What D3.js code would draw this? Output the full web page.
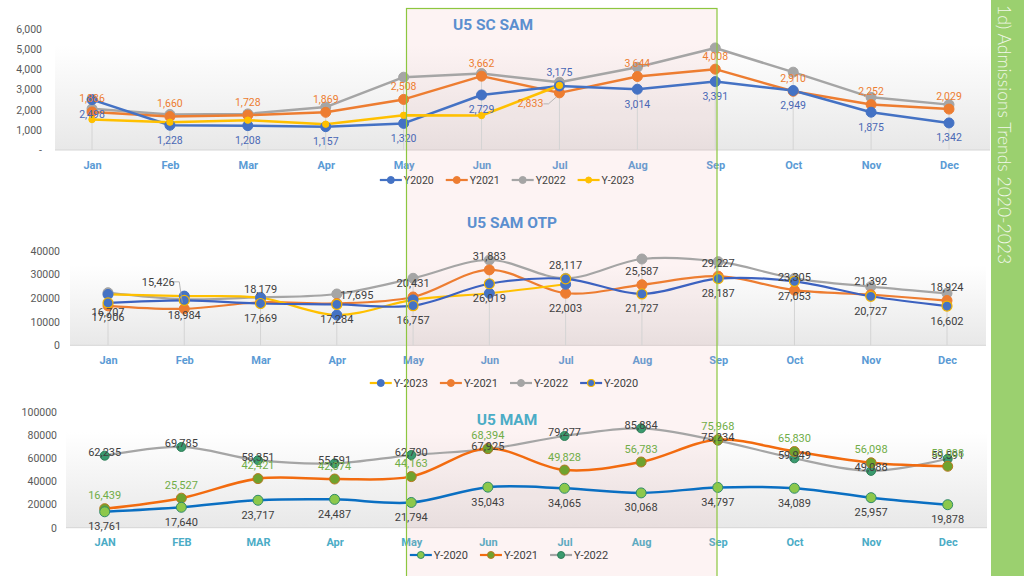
<!DOCTYPE html>
<html><head><meta charset="utf-8">
<script src="https://cdn.jsdelivr.net/npm/d3@7"></script>
<style>
body{margin:0;background:#fff;}
svg{display:block;font-family:Roboto,'DejaVu Sans',sans-serif;}
</style>
</head><body>
<svg id="c" width="1024" height="576"></svg>
<script>
// ---------- DATA ----------
const months = ["Jan","Feb","Mar","Apr","May","Jun","Jul","Aug","Sep","Oct","Nov","Dec"];
const monthsMam = ["JAN","FEB","MAR","Apr","May","Jun","Jul","Aug","Sep","Oct","Nov","Dec"];

// U5 SC SAM
const scSamTicks = [0,1000,2000,3000,4000,5000,6000];
const scSamTickLabels = ["-","1,000","2,000","3,000","4,000","5,000","6,000"];
const scSam2020 = [2498,1228,1208,1157,1320,2729,3175,3014,3391,2949,1875,1342];
const scSam2021 = [1886,1660,1728,1869,2508,3662,2833,3644,4008,2910,2252,2029];
const scSam2022 = [2040,1760,1790,2130,3610,3790,3360,4100,5060,3860,2610,2250];
const scSam2023 = [1510,1380,1480,1280,1720,1710,3200];

// U5 SAM OTP
const otpTicks = [0,10000,20000,30000,40000];
const otpTickLabels = ["0","10000","20000","30000","40000"];
const otp2023 = [21500,20800,20100,12800,19200,22000,25800];
const otp2021 = [16707,15426,18179,17695,20431,31883,22003,25587,29227,23305,21392,18924];
const otp2022 = [22240,19450,20300,21690,28330,36070,28330,36490,35370,28330,24790,21980];
const otp2020 = [17906,18984,17669,17284,16757,26019,28117,21727,28187,27053,20727,16602];

// U5 MAM
const mamTicks = [0,20000,40000,60000,80000,100000];
const mamTickLabels = ["0","20000","40000","60000","80000","100000"];
const mam2020 = [13761,17640,23717,24487,21794,35043,34065,30068,34797,34089,25957,19878];
const mam2021 = [16439,25527,42421,42074,44163,68394,49828,56783,75968,65830,56098,53088];
const mam2022 = [62235,69785,58351,55591,62790,67925,79277,85884,75234,59949,49088,59591];

const sideTitle = "1d) Admissions Trends 2020-2023";

// ---------- DRAWING ----------
const svg = d3.select("#c");
const fmt = d3.format(",");
const defs = svg.append("defs");
const grad = defs.append("linearGradient").attr("id","pbg").attr("x1",0).attr("y1",0).attr("x2",0).attr("y2",1);
grad.append("stop").attr("offset","0").attr("stop-color","#ffffff");
grad.append("stop").attr("offset","1").attr("stop-color","#e8e8e8");

const layerBg = svg.append("g");
const layerHl = svg.append("g");
const layerMain = svg.append("g");
const layerTop = svg.append("g");

// label placement codes
function place(code, px, py){
  switch(code){
    case "a": return {x:px, y:py-13};
    case "b": return {x:px, y:py+15};
    case "b6": return {x:px, y:py+7};
    case "c": return {x:px, y:py-3};
    case "r": return {x:px+20, y:py-8};
    case "lb": return {x:px-29, y:py+11, leader:[[px-16,py+11],[px-11,py+11],[px-3,py+4]]};
    case "lu": return {x:px-26, y:py-26, leader:[[px-12,py-27],[px-5,py-27],[px-2,py-6]]};
    default: return {x:px, y:py-13};
  }
}

function drawPanel(p){
  const x = d3.scalePoint().domain(p.cats).range(p.xr);
  const y = d3.scaleLinear().domain([p.ticks[0], p.ticks[p.ticks.length-1]]).range(p.yr);
  // plot background
  layerBg.append("rect").attr("x",p.plot[0]).attr("y",p.plot[1])
    .attr("width",p.plot[2]-p.plot[0]).attr("height",y(0)-p.plot[1]).attr("fill","url(#pbg)");
  layerBg.append("line").attr("x1",p.plot[0]).attr("x2",p.plot[2]).attr("y1",y(0)).attr("y2",y(0))
    .attr("stroke","#d6d6d6").attr("stroke-width",1);
  // y axis
  const ya = d3.axisLeft(y).tickValues(p.ticks).tickSize(0).tickPadding(0)
    .tickFormat((d,i)=>p.tickLabels[i]);
  const yg = layerBg.append("g").attr("transform",`translate(${p.yAxisX},0)`).call(ya);
  yg.select(".domain").remove();
  yg.selectAll("text").attr("fill","#595959").attr("font-size",10.5).attr("font-family","Roboto, sans-serif");
  // x axis
  const xa = d3.axisBottom(x).tickSize(0).tickPadding(0);
  const xg = layerBg.append("g").attr("transform",`translate(0,${p.xLabelY})`).call(xa);
  xg.select(".domain").remove();
  xg.selectAll("text").attr("fill",p.monthColor).attr("font-size",11).attr("font-weight","bold")
    .attr("font-family","Roboto, sans-serif").attr("dy","0.35em");
  // title
  layerMain.append("text").attr("x",p.titleX).attr("y",p.titleY).attr("text-anchor","middle")
    .attr("dominant-baseline","central").attr("font-size",15.5).attr("font-weight","bold")
    .attr("fill",p.titleColor).text(p.title);
  // drop lines
  if(p.dropLines){
    p.cats.forEach((c,i)=>{
      const mx = d3.max(p.series, s=> s.data[i]!==undefined ? s.data[i] : -Infinity);
      layerMain.append("line").attr("x1",x(c)).attr("x2",x(c)).attr("y1",y(mx)).attr("y2",y(0))
        .attr("stroke","#d4d4d4").attr("stroke-width",1);
    });
  }
  // lines
  const line = d3.line().x((d,i)=>x(p.cats[i])).y(d=>y(d)).curve(p.curve);
  p.series.forEach(s=>{
    layerMain.append("path").attr("d",line(s.data)).attr("fill","none")
      .attr("stroke",s.line).attr("stroke-width",s.lw||2.5).attr("stroke-linejoin","round").attr("stroke-linecap","round");
  });
  p.series.forEach(s=>{
    layerMain.append("g").selectAll("circle").data(s.data).join("circle")
      .attr("cx",(d,i)=>x(p.cats[i])).attr("cy",d=>y(d)).attr("r",s.r)
      .attr("fill",s.fill).attr("stroke",s.stroke).attr("stroke-width",s.sw||1);
  });
  // labels
  p.series.forEach(s=>{
    if(!s.labelPos) return;
    s.data.forEach((d,i)=>{
      const pt = place(s.labelPos[i], x(p.cats[i]), y(d));
      if(pt.leader){
        layerTop.append("path").attr("d",d3.line()(pt.leader)).attr("fill","none")
          .attr("stroke","#a6a6a6").attr("stroke-width",0.8);
      }
      layerTop.append("text").attr("x",pt.x).attr("y",pt.y).attr("text-anchor","middle")
        .attr("dominant-baseline","central").attr("font-size",p.labelSize)
        .attr("fill",s.labelColor).text(fmt(d));
    });
  });
  // legend
  const lg = layerTop.append("g");
  let cx = 0;
  p.series.slice().sort((a,b)=>a.legendOrder-b.legendOrder).forEach(s=>{
    lg.append("line").attr("x1",cx).attr("x2",cx+22).attr("y1",0).attr("y2",0)
      .attr("stroke",s.line).attr("stroke-width",2.2);
    lg.append("circle").attr("cx",cx+11).attr("cy",0).attr("r",s.legendR||3.5)
      .attr("fill",s.fill).attr("stroke",s.stroke).attr("stroke-width",s.sw||1);
    const t = lg.append("text").attr("x",cx+24).attr("y",0).attr("dominant-baseline","central")
      .attr("font-size",p.legendSize).attr("fill","#404040").text(s.name);
    cx += 24 + t.node().getComputedTextLength() + 12;
  });
  cx -= 12;
  lg.attr("transform",`translate(${p.legendCX - cx/2},${p.legendY})`);
}

const A = "a", B = "b";
drawPanel({
  title:"U5 SC SAM", titleX:493, titleY:25, titleColor:"#5b8fcf",
  cats:months, xr:[92,949], ticks:scSamTicks, tickLabels:scSamTickLabels, yr:[150,29],
  plot:[55,45,990], yAxisX:42, xLabelY:165, monthColor:"#5b9bd5",
  curve:d3.curveLinear, dropLines:true, labelSize:10.5, legendSize:10.5,
  legendCX:507, legendY:180,
  series:[
    {name:"Y2022", data:scSam2022, line:"#a5a5a5", fill:"#a5a5a5", stroke:"#a5a5a5", r:5, legendOrder:2},
    {name:"Y2021", data:scSam2021, line:"#ed7d31", fill:"#ed7d31", stroke:"#ed7d31", r:5, legendOrder:1,
      labelColor:"#ed7d31", labelPos:[A,A,A,A,A,A,"lb",A,A,A,A,A]},
    {name:"Y2020", data:scSam2020, line:"#4472c4", fill:"#4472c4", stroke:"#4472c4", r:5, legendOrder:0,
      labelColor:"#4a68b5", labelPos:[B,B,B,B,B,B,A,B,B,B,B,B]},
    {name:"Y-2023", data:scSam2023, line:"#ffc000", fill:"#ffc000", stroke:"#ffc000", r:3.2, legendR:3, legendOrder:3}
  ]
});

drawPanel({
  title:"U5 SAM OTP", titleX:512, titleY:223, titleColor:"#5b8fcf",
  cats:months, xr:[108,947], ticks:otpTicks, tickLabels:otpTickLabels, yr:[345.3,250.7],
  plot:[70,265,986], yAxisX:60, xLabelY:360, monthColor:"#5b9bd5",
  curve:d3.curveCatmullRom.alpha(0.5), dropLines:true, labelSize:11, legendSize:11,
  legendCX:504, legendY:383,
  series:[
    {name:"Y-2022", data:otp2022, line:"#a5a5a5", fill:"#a5a5a5", stroke:"#a5a5a5", r:5, lw:2.2, legendOrder:2},
    {name:"Y-2021", data:otp2021, line:"#ed7d31", fill:"#ed7d31", stroke:"#ed7d31", r:5, lw:2.2, legendOrder:1,
      labelColor:"#404040", labelPos:["b6","lu",A,"r",A,A,B,A,A,A,A,A]},
    {name:"Y-2023", data:otp2023, line:"#ffc000", fill:"#4472c4", stroke:"#4472c4", r:5, lw:2.2, legendOrder:0},
    {name:"Y-2020", data:otp2020, line:"#3c62c0", fill:"#4472c4", stroke:"#f2b400", r:5, sw:1.2, lw:2.2, legendOrder:3,
      labelColor:"#404040", labelPos:[B,B,B,B,B,B,A,B,B,B,B,B]}
  ]
});

drawPanel({
  title:"U5 MAM", titleX:507, titleY:420, titleColor:"#4bacc6",
  cats:monthsMam, xr:[104.7,947.7], ticks:mamTicks, tickLabels:mamTickLabels, yr:[527.7,412],
  plot:[66,432,987], yAxisX:57, xLabelY:542, monthColor:"#4bacc6",
  curve:d3.curveCatmullRom.alpha(0.5), dropLines:false, labelSize:11, legendSize:11,
  legendCX:509, legendY:555,
  series:[
    {name:"Y-2022", data:mam2022, line:"#a5a5a5", fill:"#3a9a6e", stroke:"#2e7d57", r:4.5, lw:2.2, legendOrder:2,
      labelColor:"#404040", labelPos:Array(12).fill("c")},
    {name:"Y-2021", data:mam2021, line:"#f26b0f", fill:"#6fa22e", stroke:"#b7791f", r:5, lw:2.5, legendOrder:1,
      labelColor:"#70ad47", labelPos:Array(12).fill(A)},
    {name:"Y-2020", data:mam2020, line:"#0a6fc2", fill:"#8cc84b", stroke:"#2f8a6a", r:5, lw:2.5, legendOrder:0,
      labelColor:"#404040", labelPos:Array(12).fill(B)}
  ]
});

// highlight box (May–Sep)
layerHl.append("rect").attr("x",406).attr("y",8).attr("width",311).attr("height",600)
  .attr("fill","#f2a0a0").attr("fill-opacity",0.12);
layerTop.append("rect").attr("x",406.5).attr("y",8.5).attr("width",310.5).attr("height",600)
  .attr("fill","none").attr("stroke","#8dc63f").attr("stroke-width",1.2);

// side title bar
layerTop.append("rect").attr("x",991).attr("y",0).attr("width",33).attr("height",576).attr("fill","#9bd06f");
layerTop.append("text").attr("transform","translate(1004,5) rotate(90)")
  .attr("dominant-baseline","central").attr("font-family","Lato, 'Open Sans', sans-serif")
  .attr("font-weight",300).attr("font-size",17.5).attr("fill","#f1f8ea").text(sideTitle);
</script>
</body></html>
